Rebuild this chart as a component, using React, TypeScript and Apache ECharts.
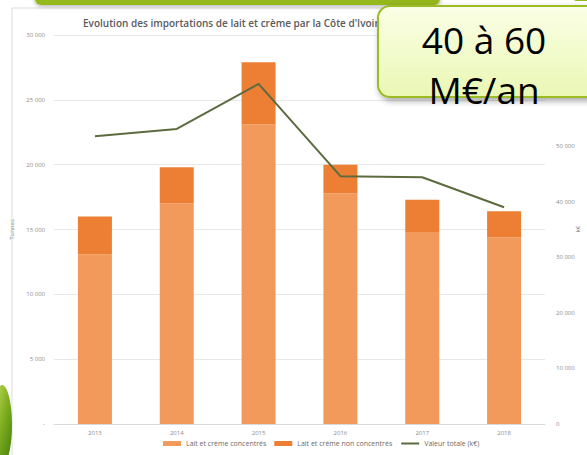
import React, { useEffect, useRef } from "react";
import * as echarts from "echarts";

const years = ["2013", "2014", "2015", "2016", "2017", "2018"];
const concentres = [13100, 17000, 23100, 17800, 14800, 14400];
const nonConcentres = [2900, 2800, 4800, 2200, 2500, 2000];
const valeurTotale = [51800, 53100, 61200, 44600, 44400, 39000];
const titleText = "Evolution des importations de lait et crème par la Côte d'Ivoire";
const calloutLines = ["40 à 60", "M€/an"];
const rightAxisTitle = "k€";

const fmt = (v: number) =>
  v === 0 ? "" : String(v).replace(/\B(?=(\d{3})+(?!\d))/g, " ");

export default function App() {
  const ref = useRef<HTMLDivElement>(null);
  useEffect(() => {
    document.body.style.margin = "0";
    const chart = echarts.init(ref.current!, null, { renderer: "svg" });
    const labelFont = { fontFamily: "Open Sans", fontSize: 6, color: "#8a8a8a" };
    const calloutText = (text: string, y: number) => ({
      type: "text",
      z: 102,
      x: 484,
      y,
      style: {
        text,
        fontFamily: "Open Sans",
        fontSize: 37,
        fill: "#000000",
        align: "center",
        verticalAlign: "middle",
      },
    });
    chart.setOption({
      animation: false,
      backgroundColor: "#ffffff",
      textStyle: { fontFamily: "Open Sans" },
      title: {
        text: titleText,
        left: 78,
        top: 13,
        textStyle: { fontFamily: "Open Sans", fontSize: 10, fontWeight: 600, color: "#5a5a5a" },
      },
      grid: { left: 54, right: 42, top: 35, bottom: 31, outerBoundsMode: "none", containLabel: false },
      legend: {
        bottom: 3,
        left: 158,
        itemWidth: 18,
        itemHeight: 5,
        itemGap: 8,
        textStyle: { fontFamily: "Open Sans", fontSize: 7, color: "#6a6a6a" },
        data: [
          { name: "Lait et crème concentrés", icon: "rect" },
          { name: "Lait et crème non concentrés", icon: "rect" },
          { name: "Valeur totale (k€)", itemStyle: { opacity: 0 } },
        ],
      },
      xAxis: {
        type: "category",
        data: years,
        axisLine: { lineStyle: { color: "#d9d9d9" } },
        axisTick: { show: false },
        axisLabel: { ...labelFont, margin: 6 },
      },
      yAxis: [
        {
          type: "value",
          min: 0,
          max: 30000,
          interval: 5000,
          name: "Tonnes",
          nameLocation: "middle",
          nameGap: 31,
          nameTextStyle: { ...labelFont, color: "#6a6a6a" },
          axisLine: { show: false },
          axisTick: { show: false },
          axisLabel: { ...labelFont, margin: 9, formatter: (v: number) => (v === 0 ? "-" : fmt(v)) },
          splitLine: { lineStyle: { color: "#e8e8e8" } },
        },
        {
          type: "value",
          min: 0,
          max: 70000,
          interval: 10000,
          axisLine: { show: false },
          axisTick: { show: false },
          axisLabel: { ...labelFont, margin: 11, formatter: (v: number) => (v === 0 ? "0" : fmt(v)) },
          splitLine: { show: false },
        },
      ],
      series: [
        {
          name: "Lait et crème concentrés",
          type: "bar",
          stack: "t",
          barWidth: 34,
          data: concentres,
          itemStyle: { color: "#f19a5b" },
        },
        {
          name: "Lait et crème non concentrés",
          type: "bar",
          stack: "t",
          data: nonConcentres,
          itemStyle: { color: "#ec7f34" },
        },
        {
          name: "Valeur totale (k€)",
          type: "line",
          yAxisIndex: 1,
          data: valeurTotale,
          symbol: "none",
          lineStyle: { color: "#5c6b3f", width: 2 },
          itemStyle: { color: "#5c6b3f" },
        },
      ],
      graphic: [
        {
          type: "rect",
          z: 50,
          shape: { x: 12, y: 8, width: 600, height: 460 },
          style: { fill: "transparent", stroke: "#dcdcdc", lineWidth: 1 },
          silent: true,
        },
        {
          type: "text",
          z: 50,
          x: 578,
          y: 229,
          rotation: Math.PI / 2,
          style: {
            text: rightAxisTitle,
            fontFamily: "Open Sans",
            fontSize: 6,
            fill: "#6a6a6a",
            align: "center",
            verticalAlign: "middle",
          },
        },
        {
          type: "rect",
          z: 60,
          shape: { x: 35, y: -10, width: 405, height: 15, r: 6 },
          style: {
            fill: "#95b81a",
            shadowBlur: 4,
            shadowColor: "rgba(0,0,0,0.35)",
            shadowOffsetY: 1,
          },
        },
        {
          type: "rect",
          z: 60,
          shape: { x: 573, y: -10, width: 30, height: 11, r: 4 },
          style: { fill: "#95b81a" },
        },
        {
          type: "ellipse",
          z: 60,
          shape: { cx: 2, cy: 425, rx: 10, ry: 40 },
          style: {
            fill: new echarts.graphic.LinearGradient(0, 0, 1, 1, [
              { offset: 0, color: "#c8e06a" },
              { offset: 0.5, color: "#7fae1e" },
              { offset: 1, color: "#3f7a10" },
            ]),
          },
        },
        {
          type: "rect",
          z: 101,
          shape: { x: 378, y: 6, width: 230, height: 91, r: 12 },
          style: {
            fill: new echarts.graphic.LinearGradient(0, 0, 0, 1, [
              { offset: 0, color: "#fbffe6" },
              { offset: 1, color: "#eaf7b4" },
            ]),
            stroke: "#9bbc22",
            lineWidth: 2,
            shadowBlur: 6,
            shadowColor: "rgba(0,0,0,0.35)",
            shadowOffsetX: 2,
            shadowOffsetY: 3,
          },
        },
        calloutText(calloutLines[0], 39),
        calloutText(calloutLines[1], 89),
      ],
    });
    return () => chart.dispose();
  }, []);
  return (
    <div
      ref={ref}
      style={{ position: "absolute", left: 0, top: 0, width: 587, height: 455 }}
    />
  );
}
